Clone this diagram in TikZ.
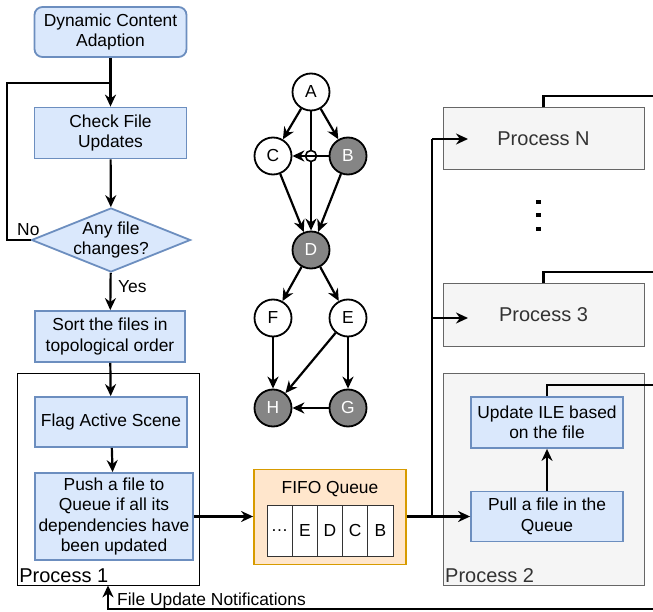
\documentclass[tikz,border=0pt]{standalone}
\usepackage{fontspec}
\setmainfont{Liberation Sans}
\usetikzlibrary{arrows.meta, positioning, calc, shapes.geometric}
\definecolor{bfill}{HTML}{DAE8FC}
\definecolor{bline}{HTML}{6C8EBF}
\definecolor{ofill}{HTML}{FFE6CC}
\definecolor{oline}{HTML}{D79B00}
\definecolor{pfill}{HTML}{F5F5F5}
\definecolor{pline}{HTML}{666666}
\definecolor{ptext}{HTML}{333333}
\definecolor{dgray}{HTML}{858585}

\begin{document}
\begin{tikzpicture}[x=1pt, y=-1pt,
    every node/.style={font=\fontsize{17.4}{20.5}\selectfont},
    task/.style={draw=bline, fill=bfill, line width=1.8pt, align=center,
        inner sep=0pt, minimum width=152, minimum height=50},
    ask/.style={diamond, draw=bline, fill=bfill, line width=1.8pt,
        inner sep=0pt, minimum width=159, minimum height=64},
    grp/.style={draw=black, line width=0.8pt, inner sep=0pt},
    proc/.style={draw=pline, fill=pfill, line width=1pt, inner sep=0pt,
        minimum width=201, text=ptext, font=\fontsize{20}{24}\selectfont},
    plab/.style={font=\fontsize{20}{24}\selectfont, inner sep=2.5pt},
    vtx/.style={circle, draw, line width=1.8pt, minimum size=37, inner sep=0pt},
    dvtx/.style={vtx, fill=dgray, text=white},
    cell/.style={draw=ptext, fill=white, line width=0.8pt,
        minimum width=25.2, minimum height=51, inner sep=0pt},
    arr/.style={line width=2.2pt, -{Stealth[length=12pt, width=11pt]}},
    ln/.style={line width=2.2pt},
]
\useasboundingbox (0,0) rectangle (653,612);

% left column
\node[task, rounded corners=8pt] (dca) at (110.5,32) {Dynamic Content\\Adaption};
\node[task, minimum height=51] (chk) at (110.5,133) {Check File\\Updates};
\node[ask] (chg) at (111,240) {};
\node[align=center, inner sep=0pt] (chgt) at (chg) {Any file\\changes?};
\node[task, minimum width=150, minimum height=51] (srt) at (110,336.5) {Sort the files in\\topological order};

\node[grp, minimum width=182, minimum height=212] (proc1) at (108,479) {};
\node[plab, anchor=south west] (p1lab) at (proc1.south west) {Process 1};
\node[task] (flg) at (111,422) {Flag Active Scene};
\node[task, minimum width=158, minimum height=87] (push) at (114,516.5)
    {Push a file to\\Queue if all its\\dependencies have\\been updated};

\draw[arr] (dca) -- (chk);
\draw[arr] (chk) -- (chg);
\draw[arr] (chg) -- (srt);
\draw[arr] (srt) -- (flg);
\draw[arr] (flg) -- (push);

% the No loop
\coordinate (nocorner) at (7,83);
\draw[ln] (chg.west) -| (nocorner) -- (nocorner -| dca.south);
\node[anchor=base west, inner sep=0pt] (nolab) at (17,236) {No};
\node[anchor=base west, inner sep=0pt] (yeslab) at (118,292) {Yes};

% dependency graph
\node[vtx] (A) at (311,92) {A};
\node[vtx] (C) at (273,156) {C};
\node[dvtx] (B) at (348,156) {B};
\node[dvtx] (D) at (311,250) {D};
\node[vtx] (F) at (273,318) {F};
\node[vtx] (E) at (348,318) {E};
\node[dvtx] (H) at (273,408) {H};
\node[dvtx] (G) at (348,408) {G};

\draw[arr] (A) -- (C);
\draw[arr] (A) -- (B);
\draw[arr] (A) -- (D);
\coordinate (hop) at (A |- C);
\draw[line width=1.6pt, fill=white] (hop) circle (5.5);
\draw[arr] (B) -- (C);
\foreach \s/\t in {C/D, B/D, D/F, D/E, F/H, E/H, E/G, G/H}{
    \draw[arr] (\s) -- (\t);
}

% the queue
\node[draw=oline, fill=ofill, line width=1.8pt, inner sep=0pt,
    minimum width=152, minimum height=95] (fifo) at (330,517) {};
\node (fifot) at (330,489) {FIFO Queue};
\foreach \i/\t in {0/\ldots, 1/E, 2/D, 3/C, 4/B}{
    \node[cell] (q\i) at ({279.6+25.2*\i}, 530.5) {\t};
}
\draw[arr] (push.east) -- (push.east -| fifo.west);

% other processes
\node[proc, minimum height=62] (procN) at (543.5,139) {Process N};
\node[proc, minimum height=62] (proc3) at (543.5,315) {Process 3};
\foreach \y in {200, 213, 227}{
    \fill (536,\y) rectangle ++(4.5,4.5);
}
\node[proc, minimum height=212] (proc2) at (543.5,479) {};
\node[plab, anchor=south west, text=ptext] (p2lab) at (proc2.south west) {Process 2};
\node[task, minimum height=51] (upd) at (547,422.5) {Update ILE based\\on the file};
\node[task] (pull) at (547,516.5) {Pull a file in the\\Queue};
\draw[arr] (pull) -- (upd);

\coordinate (tbot) at (432,516.5);
\coordinate (ttop) at (432,139);
\coordinate (pNin) at (468,139);
\coordinate (p3in) at (468,318);
\draw[ln] (fifo.east |- tbot) -- (tbot) -- (ttop);
\draw[arr] (ttop) -- (pNin);
\draw[arr] (ttop |- p3in) -- (p3in);
\draw[arr] (tbot) -- (pull.west);

% notifications back to process 1
\coordinate (eN) at (653,96);
\coordinate (e3) at (653,272);
\coordinate (eU) at (653,385);
\coordinate (ntf) at (653,609);
\draw[ln] (procN.north) |- (eN);
\draw[ln] (proc3.north) |- (e3);
\draw[ln] (upd.north) |- (eU);
\draw[arr] (ntf) -| (proc1.south);
\node[anchor=base west, inner sep=0pt] (ntflab) at (117,605) {File Update Notifications};
\end{tikzpicture}
\end{document}
